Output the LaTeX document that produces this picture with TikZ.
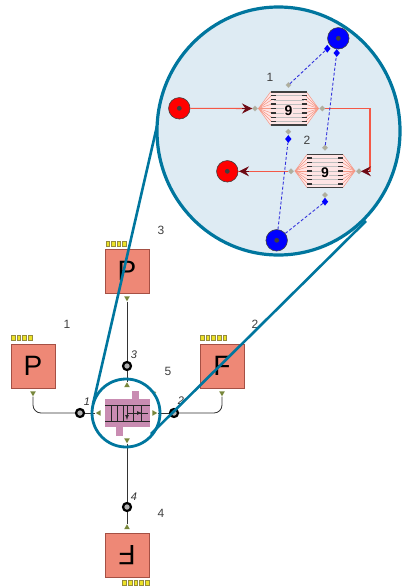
\documentclass[tikz,border=0pt]{standalone}
\usepackage{fontspec}
\setmainfont{Liberation Sans}
\usetikzlibrary{arrows.meta,shapes.geometric}
\definecolor{zoomteal}{RGB}{0,118,158}
\definecolor{zoomfill}{RGB}{222,235,243}
\definecolor{salmonbox}{RGB}{238,136,118}
\definecolor{salmonedge}{RGB}{165,80,68}
\definecolor{pipyellow}{RGB}{236,226,40}
\definecolor{pipedge}{RGB}{150,140,60}
\definecolor{portolive}{RGB}{120,135,60}
\definecolor{columnmauve}{RGB}{201,140,178}
\definecolor{hotred}{RGB}{244,88,70}
\definecolor{fanpink}{RGB}{244,150,132}
\definecolor{coldblue}{RGB}{50,50,220}
\definecolor{portgrey}{RGB}{175,175,155}
\definecolor{headred}{RGB}{110,10,20}
\tikzset{
  unitbox/.style={draw=salmonedge,fill=salmonbox,line width=0.9pt,minimum size=44pt,inner sep=0pt,font=\fontsize{28}{28}\selectfont},
  pip/.style={draw=pipedge,fill=pipyellow,line width=0.3pt,minimum width=3.4pt,minimum height=5pt,inner sep=0pt},
  portmark/.style={regular polygon,regular polygon sides=3,fill=portolive,minimum size=6.5pt,inner sep=0pt,shape border rotate=#1},
  ring/.style={circle,draw=black,fill=black!30,line width=2.2pt,minimum size=8pt,inner sep=0pt},
  stream/.style={black!80,line width=0.8pt},
  idlabel/.style={font=\fontsize{12}{12}\selectfont,text=black!75,inner sep=0pt},
  streamlabel/.style={font=\itshape\fontsize{11}{11}\selectfont,text=black!80,inner sep=0pt},
  zoomline/.style={zoomteal,line width=2.6pt},
  ball/.style={circle,draw=black!75,line width=0.6pt,minimum size=21.5pt,inner sep=0pt,fill=#1},
  hotline/.style={hotred,line width=1.1pt},
  coldline/.style={coldblue,line width=0.9pt,densely dashed},
  hxport/.style={diamond,fill=portgrey,draw=black!30,line width=0.2pt,minimum size=5.5pt,inner sep=0pt},
  coldtip/.style={diamond,fill=blue,minimum width=6.5pt,minimum height=8pt,inner sep=0pt},
  fan/.style={fanpink,line width=0.5pt},
  tipstealth/.style={-{Stealth[length=10pt,width=10pt,inset=3.5pt]},headred,line width=0.8pt}
}
\begin{document}
\begin{tikzpicture}[x=1pt,y=-1pt]
\useasboundingbox (0,0) rectangle (402,586);

% units
\node[unitbox] (unitone) at (33,366) {P};
\node[unitbox] (unittwo) at (222,366) {F};
\node[unitbox] (unitthree) at (127,271) {P};
\node[unitbox,rotate=180] (unitfour) at (127,555) {F};
\foreach \x in {13,18.7,24.3,30} \node[pip] at (\x,338) {};
\foreach \x in {202,207.7,213.3,219,224.7} \node[pip] at (\x,338) {};
\foreach \x in {107.7,113.3,118.7,124.3} \node[pip] at (\x,243.7) {};
\foreach \x in {124.3,130,135.7,141.3,147} \node[pip] at (\x,582.7) {};

% ports and stream rings
\node[portmark=180] (portone) at (33,393) {};
\node[portmark=180] (porttwo) at (222,393) {};
\node[portmark=180] (portthree) at (127,298) {};
\node[portmark=0] (portfour) at (127,527.5) {};
\node[portmark=90] (colone) at (99,413) {};
\node[portmark=-90] (coltwo) at (154,413) {};
\node[portmark=0] (colthree) at (127,385.5) {};
\node[portmark=180] (colfour) at (127,440) {};
\node[ring] (ringone) at (80,413) {};
\node[ring] (ringtwo) at (174,413) {};
\node[ring] (ringthree) at (127,366) {};
\node[ring] (ringfour) at (127,507) {};
\draw[stream,rounded corners=8pt] (portone.south) |- (ringone.west);
\draw[stream,rounded corners=8pt] (porttwo.south) |- (ringtwo.east);
\draw[stream] (ringone) -- (colone);
\draw[stream] (ringtwo) -- (coltwo);
\draw[stream] (portthree) -- (ringthree);
\draw[stream] (ringthree) -- (colthree);
\draw[stream] (colfour) -- (ringfour);
\draw[stream] (ringfour) -- (portfour);

% column in the middle
\fill[columnmauve] (132,391) rectangle (139,399);
\fill[columnmauve] (116,427) rectangle (123,436);
\fill[columnmauve] (105,399) rectangle (150,427);
\draw[black!85,line width=0.7pt] (105,405) -- (150,405) (105,421) -- (150,421);
\foreach \x in {111.7,117.3,123.3,133,141.7} \draw[black!85,line width=0.7pt] (\x,405) -- (\x,421);
\draw[black!85,line width=0.7pt] (127,413) -- (148,413);
\draw[black!85,line width=0.7pt,-latex] (127,413) -- (142,413);
\draw[black!85,line width=0.7pt,-latex] (127,405) -- (127,420);
\draw[portolive,line width=0.8pt] (152,391) -- (156,392.5);

% numbers
\node[idlabel] at (67,324) {1};
\node[idlabel] at (255,324) {2};
\node[idlabel] at (161,230) {3};
\node[idlabel] at (161,513) {4};
\node[idlabel] at (168,371) {5};
\node[streamlabel] at (87,402) {1};
\node[streamlabel] at (181,401) {2};
\node[streamlabel] at (134,355) {3};
\node[streamlabel] at (134,497) {4};

% zoom lens
\node[circle,draw=zoomteal,line width=2.8pt,minimum size=68pt,inner sep=0pt] (lens) at (126,413) {};
\draw[zoomline] (93,404) -- (160,113);
\draw[zoomline] (151,434) -- (366,221);
\node[ellipse,draw=zoomteal,fill=zoomfill,line width=3.2pt,minimum width=243pt,minimum height=248pt,inner sep=0pt] (bigzoom) at (278.5,131) {};

% exchangers
\foreach \n/\cx/\cy in {hxone/288.5/108.5,hxtwo/325/171}{
  \fill[white!90!red] (\cx-30,\cy) -- (\cx-18,\cy-16.5) -- (\cx+18,\cy-16.5) -- (\cx+30,\cy) -- (\cx+18,\cy+16.5) -- (\cx-18,\cy+16.5) -- cycle;
  \draw[fan] (\cx-30,\cy) -- (\cx-18,\cy-16.5) -- (\cx+18,\cy-16.5) -- (\cx+30,\cy) -- (\cx+18,\cy+16.5) -- (\cx-18,\cy+16.5) -- cycle;
  \foreach \dy in {-13,-8.7,-4.4,0,4.4,8.7,13}{
    \draw[fan] (\cx-30,\cy) -- (\cx-17,\cy+\dy) (\cx+30,\cy) -- (\cx+17,\cy+\dy);
    \draw[black!25,line width=0.5pt] (\cx-15,\cy+\dy) -- (\cx+15,\cy+\dy);
    \draw[black!80,line width=1.3pt] (\cx-18,\cy+\dy) -- (\cx-13,\cy+\dy) (\cx+13,\cy+\dy) -- (\cx+18,\cy+\dy);
  }
  \draw[black!75,line width=1.3pt] (\cx-18,\cy-16.5) -- (\cx+18,\cy-16.5) (\cx-18,\cy+16.5) -- (\cx+18,\cy+16.5);
  \node[font=\bfseries\fontsize{14}{14}\selectfont,fill=white!90!red,inner sep=0.5pt] (\n) at (\cx,\cy+2) {9};
}

% process side
\node[ball=red] (hotin) at (179.3,108.3) {};
\node[ball=red] (hotout) at (227.3,171.3) {};
\node[hxport] (hxonein) at (255,108.5) {};
\node[hxport] (hxoneout) at (322.3,108.5) {};
\node[hxport] (hxtwoin) at (359,171.3) {};
\node[hxport] (hxtwoout) at (291,171.3) {};
\coordinate (tailone) at (242,108.5);
\coordinate (tipone) at (252,108.5);
\coordinate (tailtwo) at (249,171.3);
\coordinate (tiptwo) at (239,171.3);
\coordinate (bend) at (370,108.5);
\coordinate (drop) at (370,171.3);
\coordinate (tipthree) at (361,171.3);
\draw[hotline] (hotin) -- (hxonein);
\draw[tipstealth] (tailone) -- (tipone);
\draw[hotline] (hxoneout) -- (bend) -- (drop) -- (hxtwoin);
\draw[hotline,line width=1.6pt] (hxtwoout) -- (hotout);
\draw[tipstealth] (drop) -- (tipthree);
\draw[tipstealth] (tailtwo) -- (tiptwo);

% utility side
\node[ball=blue] (coldtop) at (338.3,38.3) {};
\node[ball=blue] (coldbottom) at (276.7,240.3) {};
\node[hxport] (hxonetop) at (288.5,85) {};
\node[hxport] (hxonebottom) at (288.3,131.7) {};
\node[hxport] (hxtwotop) at (325,147.7) {};
\node[hxport] (hxtwobottom) at (325,195) {};
\node[coldtip] (tipa) at (327.3,48.7) {};
\node[coldtip] (tipb) at (336.7,53) {};
\node[coldtip] (tipc) at (288.3,139) {};
\node[coldtip] (tipd) at (325,201.7) {};
\draw[coldline] (hxonetop) -- (tipa);
\draw[coldline] (hxtwotop) -- (tipb);
\draw[coldline] (coldbottom) -- (tipc);
\draw[coldline] (coldbottom) -- (tipd);
\foreach \b in {hotin,hotout,coldtop,coldbottom} \fill[black!75] (\b) circle (2.4pt);
\node[idlabel] at (270,77) {1};
\node[idlabel] at (307,140.5) {2};
\end{tikzpicture}
\end{document}
